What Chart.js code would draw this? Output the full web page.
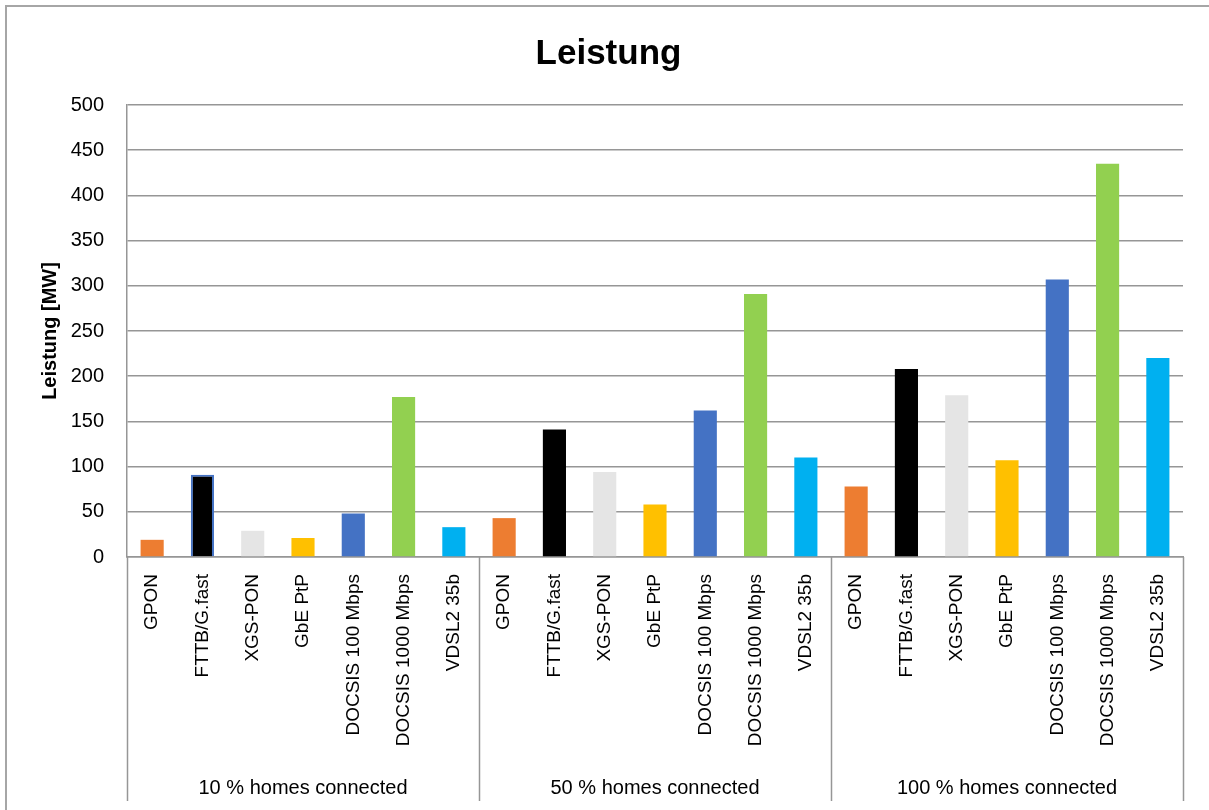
<!DOCTYPE html>
<html>
<head>
<meta charset="utf-8">
<script src="https://cdn.jsdelivr.net/npm/chart.js@4"></script>
<style>
  html, body { margin: 0; padding: 0; background: #fff; }
  #wrap { width: 1209px; height: 810px; }
</style>
</head>
<body>
<div id="wrap"><canvas id="graph" width="1209" height="810"></canvas></div>
<script>
var cvs = document.getElementById('graph');
var ctx = cvs.getContext('2d');

// Technologien (je Gruppe gleich)
let techs = ['GPON', 'FTTB/G.fast', 'XGS-PON', 'GbE PtP', 'DOCSIS 100 Mbps', 'DOCSIS 1000 Mbps', 'VDSL2 35b'];
let groups = ['10 % homes connected', '50 % homes connected', '100 % homes connected'];

// Leistung [MW]
let tenPct = [19, 91, 29, 21, 48, 177, 33];
let fiftyPct = [43, 141, 94, 58, 162, 291, 110];
let hundredPct = [78, 208, 179, 107, 307, 435, 220];

let techColors = ['#ED7D31', '#000000', '#E5E5E5', '#FFC000', '#4472C4', '#92D050', '#00B0F0'];

let labels = techs.concat(techs, techs);
let values = tenPct.concat(fiftyPct, hundredPct);
let colors = techColors.concat(techColors, techColors);
// nur der FTTB-Balken bei 10 % hat einen blauen Rand
let borders = labels.map((l, i) => i === 1 ? '#4472C4' : 'rgba(0,0,0,0)');
let borderW = labels.map((l, i) => i === 1 ? 2 : 0);

let font = "'Liberation Sans', Arial, sans-serif";
let gridGray = '#969696';

// Rahmen und Trennlinien der Gruppen
let frame = {
  id: 'frame',
  beforeDraw(chart) {
    let c = chart.ctx;
    c.save();
    c.strokeStyle = '#a6a6a6';
    c.lineWidth = 2;
    c.beginPath();
    c.moveTo(6, 810);
    c.lineTo(6, 6);
    c.lineTo(1209, 6);
    c.stroke();
    c.restore();
  },
  afterDraw(chart) {
    let x = chart.scales.x;
    let x2 = chart.scales.x2;
    let n = techs.length;
    let xs = [x.left];
    for (let g = 1; g < groups.length; g++) {
      xs.push((x.getPixelForValue(g * n - 1) + x.getPixelForValue(g * n)) / 2);
    }
    xs.push(x.right);
    let c = chart.ctx;
    c.save();
    c.strokeStyle = gridGray;
    c.lineWidth = 1.5;
    xs.forEach(px => {
      c.beginPath();
      c.moveTo(Math.round(px) + 0.5, chart.chartArea.bottom);
      c.lineTo(Math.round(px) + 0.5, x2.bottom);
      c.stroke();
    });
    c.restore();
  }
};

let chart = new Chart(ctx, {
  type: 'bar',
  data: {
    labels: labels,
    datasets: [{
      label: 'Leistung',
      data: values,
      backgroundColor: colors,
      borderColor: borders,
      borderWidth: borderW,
      barPercentage: 0.46,
      categoryPercentage: 1.0
    }]
  },
  options: {
    responsive: false,
    animation: false,
    layout: { padding: { left: 34, right: 26, top: 28, bottom: 9 } },
    plugins: {
      legend: { display: false },
      tooltip: { enabled: false },
      title: {
        display: true,
        text: 'Leistung',
        color: '#000',
        font: { family: font, size: 35, weight: 'bold' },
        padding: { top: 5, bottom: 30 }
      }
    },
    scales: {
      y: {
        min: 0,
        max: 500,
        ticks: { stepSize: 50, color: '#000', padding: 23, font: { family: font, size: 20 } },
        grid: { color: gridGray, lineWidth: 1.5, drawTicks: false },
        border: { display: true, color: gridGray, width: 1.5 },
        title: {
          display: true,
          text: 'Leistung [MW]',
          color: '#000',
          font: { family: font, size: 20, weight: 'bold' },
          padding: { top: 4, bottom: 0 }
        },
        afterFit(s) { s.width = 93; }
      },
      x: {
        weight: 0,
        grid: { display: false, drawTicks: false },
        border: { display: true, color: gridGray, width: 1.5 },
        ticks: {
          autoSkip: false,
          minRotation: 90,
          maxRotation: 90,
          padding: 17,
          color: '#000',
          font: { family: font, size: 19 }
        },
        afterFit(s) { s.height = 208; }
      },
      x2: {
        type: 'category',
        position: 'bottom',
        weight: 1,
        labels: groups,
        offset: true,
        display: true,
        grid: { display: false, drawTicks: false },
        border: { display: false },
        ticks: { padding: 11, color: '#000', font: { family: font, size: 20 } },
        afterFit(s) { s.height = 36; }
      }
    }
  },
  plugins: [frame]
});
</script>
</body>
</html>
